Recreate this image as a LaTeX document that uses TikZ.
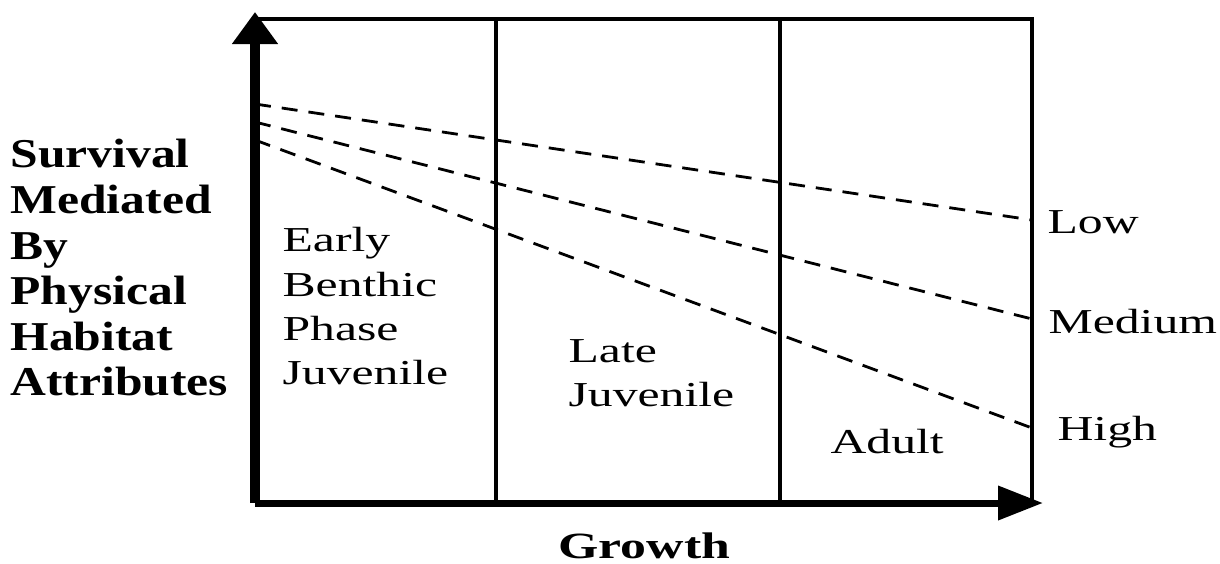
\documentclass[tikz,border=0pt]{standalone}
\usepackage{fontspec}
\setmainfont{Liberation Serif}
\usetikzlibrary{arrows.meta}

\begin{document}
\begin{tikzpicture}[
  x=0.5pt, y=-0.5pt,
  lbl/.style={inner sep=0pt, font=\fontsize{17.5}{22.2}\selectfont, align=left, xscale=1.42},
  axlbl/.style={inner sep=0pt, font=\bfseries\fontsize{20.5}{22.8}\selectfont, align=left, xscale=1.21},
  thin/.style={line width=1.6pt},
  level/.style={line width=1.4pt, dash pattern=on 8pt off 5.5pt},
]
  \useasboundingbox (0,0) rectangle (1220,563);

  % Corners and dividers
  \coordinate (orig)  at (255,503);
  \coordinate (ytip)  at (255,12);
  \coordinate (xtip)  at (1043,503);
  \coordinate (tl)    at (255,19);
  \coordinate (tr)    at (1032,19);
  \coordinate (br)    at (1032,503);
  \coordinate (d1top) at (496,19);
  \coordinate (d1bot) at (496,503);
  \coordinate (d2top) at (780,19);
  \coordinate (d2bot) at (780,503);

  % Survival levels
  \coordinate (lowS) at (255,104);
  \coordinate (lowE) at (1032,220);
  \coordinate (medS) at (255,122);
  \coordinate (medE) at (1032,319);
  \coordinate (higS) at (255,140);
  \coordinate (higE) at (1032,428);

  \draw[level] (lowS) -- (lowE);
  \draw[level] (medS) -- (medE);
  \draw[level] (higS) -- (higE);

  % Frame
  \draw[thin] (tl) -- (tr) -- (br);
  \draw[thin] (d1top) -- (d1bot);
  \draw[thin] (d2top) -- (d2bot);

  % Axes
  \draw[line width=5pt, -{Triangle[length=16pt, width=22pt]}] (orig) -- (ytip);
  \draw[line width=3.5pt, -{Triangle[length=22.5pt, width=16.5pt]}] (orig) -- (xtip);

  % Stages
  \node[lbl, anchor=north west] (early) at (282,227) {Early\\Benthic\\Phase\\Juvenile};
  \node[lbl, anchor=north west] (late)  at (568,339) {Late\\Juvenile};
  \node[lbl, anchor=base west]  (adult) at (830,453) {Adult};

  % Level labels
  \node[lbl, anchor=base west] (low)  at (1047,233) {Low};
  \node[lbl, anchor=base west] (med)  at (1048,333) {Medium};
  \node[lbl, anchor=base west] (high) at (1057,440) {High};

  % Axis titles
  \node[axlbl, anchor=north west] (ytitle) at (10,139)
    {Survival\\Mediated\\By\\Physical\\Habitat\\Attributes};
  \node[axlbl, font=\bfseries\fontsize{18.5}{21}\selectfont, xscale=1.4/1.21, anchor=base west] (xtitle) at (558,558) {Growth};
\end{tikzpicture}
\end{document}
